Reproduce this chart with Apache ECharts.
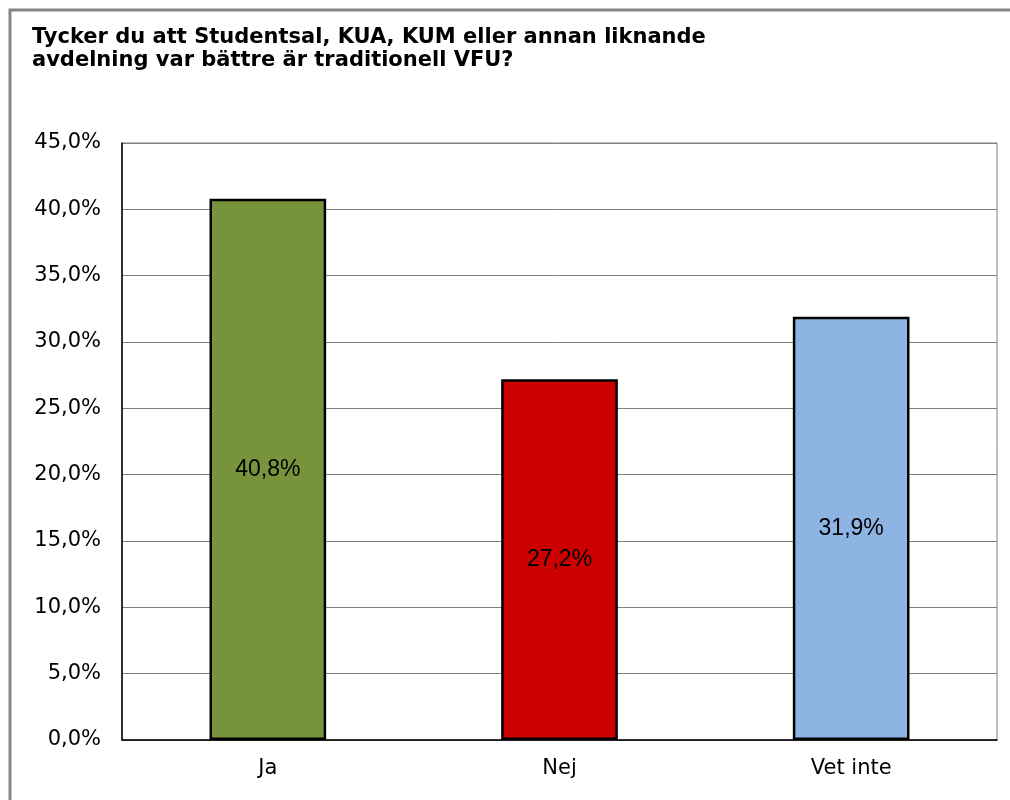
<!DOCTYPE html>
<html>
<head>
<meta charset="utf-8">
<script src="https://cdn.jsdelivr.net/npm/echarts@6/dist/echarts.min.js"></script>
<style>
  html, body { margin: 0; padding: 0; background: #fff; }
  #chart { width: 1010px; height: 800px; }
</style>
</head>
<body>
<div id="chart"></div>
<script>
// svar och andelar (%)
const categories = ["Ja", "Nej", "Vet inte"];
const values = [40.8, 27.2, 31.9];
const barColors = ["#77933C", "#CC0000", "#8EB4E3"];
const title = "Tycker du att Studentsal, KUA, KUM eller annan liknande\navdelning var bättre är traditionell VFU?";

const chart = echarts.init(document.getElementById("chart"));

const pct = v => v.toFixed(1).replace(".", ",") + "%";

const option = {
  animation: false,
  title: {
    text: title,
    left: 32,
    top: 26,
    padding: 0,
    textStyle: {
      fontFamily: "DejaVu Sans",
      fontWeight: "bold",
      fontSize: 21,
      lineHeight: 23,
      color: "#000"
    }
  },
  graphic: [
    {
      type: "rect",
      shape: { x: 10, y: 10, width: 1010, height: 800 },
      style: { fill: "none", stroke: "#858585", lineWidth: 3 }
    }
  ],
  grid: {
    left: 122,
    right: 13,
    top: 143,
    bottom: 60,
    show: true,
    borderColor: "#808080",
    borderWidth: 1
  },
  xAxis: {
    type: "category",
    data: categories,
    axisLine: { lineStyle: { color: "#000", width: 1.5 } },
    axisTick: { inside: true, length: 7, lineStyle: { color: "#000" } },
    axisLabel: {
      fontFamily: "DejaVu Sans",
      fontSize: 21,
      color: "#000",
      margin: 18
    }
  },
  yAxis: {
    type: "value",
    min: 0,
    max: 45,
    interval: 5,
    axisLine: { show: true, lineStyle: { color: "#000", width: 1.5 } },
    axisTick: { show: false },
    splitLine: { lineStyle: { color: "#808080", width: 1 } },
    axisLabel: {
      fontFamily: "DejaVu Sans",
      fontSize: 21,
      color: "#000",
      margin: 21,
      formatter: pct
    }
  },
  series: [
    {
      type: "bar",
      barWidth: "40%",
      data: values.map((v, i) => ({
        value: v,
        itemStyle: { color: barColors[i], borderColor: "#000", borderWidth: 2.5 }
      })),
      label: {
        show: true,
        position: "inside",
        fontFamily: "Liberation Sans, Arial, sans-serif",
        fontSize: 23,
        color: "#000",
        formatter: p => pct(p.value)
      }
    }
  ]
};

chart.setOption(option);
</script>
</body>
</html>
